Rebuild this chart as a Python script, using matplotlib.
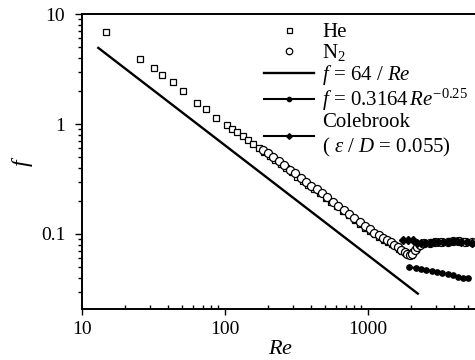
import matplotlib
matplotlib.use("Agg")
import matplotlib.pyplot as plt
from matplotlib.ticker import FixedLocator, FixedFormatter, LogLocator, NullFormatter

plt.rcParams['font.family'] = ['Liberation Serif', 'DejaVu Serif']
plt.rcParams['mathtext.fontset'] = 'custom'
plt.rcParams['mathtext.rm'] = 'Liberation Serif'
plt.rcParams['mathtext.it'] = 'Liberation Serif:italic'

# He data (squares)
he_re = [14.6, 25.5, 31.8, 36.4, 43.5, 51, 64, 73.6, 86.5, 103, 112, 122, 133, 145, 158, 172,
         188, 205, 224, 245, 268, 293, 320, 350, 383, 420, 460, 505, 555, 610, 670, 735,
         805, 880, 960, 1040, 1120, 1200, 1290, 1380, 1470, 1560, 1650, 1740, 1830, 1920,
         2000, 2080, 2160, 2250, 2400, 2600, 2850, 3100, 3400, 3750, 4100, 4500, 4950]
he_f = [6.8, 3.9, 3.2, 2.8, 2.39, 2.0, 1.54, 1.36, 1.14, 0.97, 0.91, 0.84, 0.77, 0.71, 0.66,
        0.61, 0.56, 0.515, 0.47, 0.43, 0.395, 0.363, 0.333, 0.305, 0.280, 0.256, 0.234,
        0.214, 0.195, 0.178, 0.162, 0.148, 0.135, 0.124, 0.114, 0.106, 0.099, 0.094, 0.089,
        0.085, 0.081, 0.077, 0.073, 0.070, 0.067, 0.065, 0.065, 0.068, 0.073, 0.078, 0.081,
        0.083, 0.084, 0.085, 0.085, 0.086, 0.087, 0.086, 0.085]

# N2 data (circles)
n2_re = [185, 200, 218, 238, 260, 284, 310, 338, 369, 402, 438, 477, 520, 567, 618, 674,
         735, 801, 873, 950, 1030, 1110, 1190, 1270, 1350, 1440, 1530, 1620, 1710, 1800,
         1880, 1960, 2040, 2120, 2200, 2300, 2450, 2700, 2950, 3250, 3600, 3950, 4350,
         4800, 5300]
n2_f = [0.58, 0.54, 0.50, 0.46, 0.42, 0.385, 0.355, 0.326, 0.300, 0.276, 0.254, 0.234,
        0.215, 0.197, 0.181, 0.166, 0.153, 0.140, 0.129, 0.119, 0.110, 0.103, 0.097,
        0.092, 0.088, 0.084, 0.080, 0.076, 0.072, 0.068, 0.066, 0.064, 0.066, 0.071,
        0.076, 0.080, 0.082, 0.083, 0.084, 0.085, 0.085, 0.086, 0.086, 0.085, 0.084]

# f = 64/Re (laminar)
lam_re = [13, 2230]
lam_f = [4.92, 0.0287]

# Blasius f = 0.3164 Re^-0.25
bla_re = [1950, 2150, 2350, 2550, 2800, 3050, 3300, 3600, 3900, 4250, 4600, 5000]
bla_f = [0.050, 0.049, 0.048, 0.047, 0.046, 0.045, 0.044, 0.043, 0.042, 0.041, 0.040, 0.0395]

# Colebrook (eps/D = 0.055)
col_re = [1770, 1900, 2050, 2200, 2350, 2500, 2700, 2900, 3100, 3350, 3600, 3900, 4200,
          4500, 4900, 5300]
col_f = [0.089, 0.089, 0.088, 0.082, 0.082, 0.083, 0.083, 0.084, 0.084, 0.085, 0.085,
         0.086, 0.086, 0.085, 0.084, 0.082]

xticks = [10, 100, 1000]
xticklabels = ['10', '100', '1000']
yticks = [0.1, 1, 10]
yticklabels = ['0.1', '1', '10']

fig = plt.figure(figsize=(4.75, 3.6), dpi=100)
ax = fig.add_axes([82 / 475, 51 / 360, 398 / 475, 295 / 360])
ax.set_xscale('log')
ax.set_yscale('log')

ax.plot(he_re, he_f, linestyle='none', marker='s', ms=4.5, mfc='white', mec='black',
        mew=0.9, label='He')
ax.plot(n2_re, n2_f, linestyle='none', marker='o', ms=5.8, mfc='white', mec='black',
        mew=0.9, label=r'N$_2$')
ax.plot(lam_re, lam_f, color='black', lw=1.7, label=r'$f$ = 64 / $Re$')
ax.plot(bla_re, bla_f, color='black', lw=1.5, marker='o', ms=3.8,
        label=r'$f$ = 0.3164$\,Re^{-0.25}$')
ax.plot(col_re, col_f, color='black', lw=1.5, marker='D', ms=3.6,
        label='Colebrook\n( ' + r'$\varepsilon$' + ' / ' + r'$D$' + ' = 0.055)')

ax.set_xlim(10, 6070)
ax.set_ylim(10 ** (1 - 295 / 110), 10)

ax.xaxis.set_major_locator(FixedLocator(xticks))
ax.xaxis.set_major_formatter(FixedFormatter(xticklabels))
ax.yaxis.set_major_locator(FixedLocator(yticks))
ax.yaxis.set_major_formatter(FixedFormatter(yticklabels))
ax.xaxis.set_minor_locator(LogLocator(base=10, subs=range(2, 10)))
ax.yaxis.set_minor_locator(LogLocator(base=10, subs=range(2, 10)))
ax.xaxis.set_minor_formatter(NullFormatter())
ax.yaxis.set_minor_formatter(NullFormatter())
ax.tick_params(which='both', top=False, right=False, labelsize=14, width=1.0)
ax.tick_params(axis='y', which='major', direction='out', length=5, pad=7)
ax.tick_params(axis='y', which='minor', direction='out', length=3)
ax.tick_params(axis='x', which='major', direction='out', length=4, pad=5)
ax.tick_params(axis='x', which='minor', direction='in', length=3)
for s in ['left', 'bottom', 'top']:
    ax.spines[s].set_linewidth(1.4)
ax.spines['right'].set_visible(False)

ax.set_xlabel(r'$Re$', fontsize=16, labelpad=1)
ax.set_ylabel(r'$f$', fontsize=17, labelpad=4)

leg = ax.legend(loc='upper right', bbox_to_anchor=(1.007, 1.02), frameon=False,
                fontsize=15, handlelength=2.4, handletextpad=0.4, labelspacing=0.0,
                borderpad=0.2, markerscale=0.8)

fig.savefig('out.png', dpi=100)
